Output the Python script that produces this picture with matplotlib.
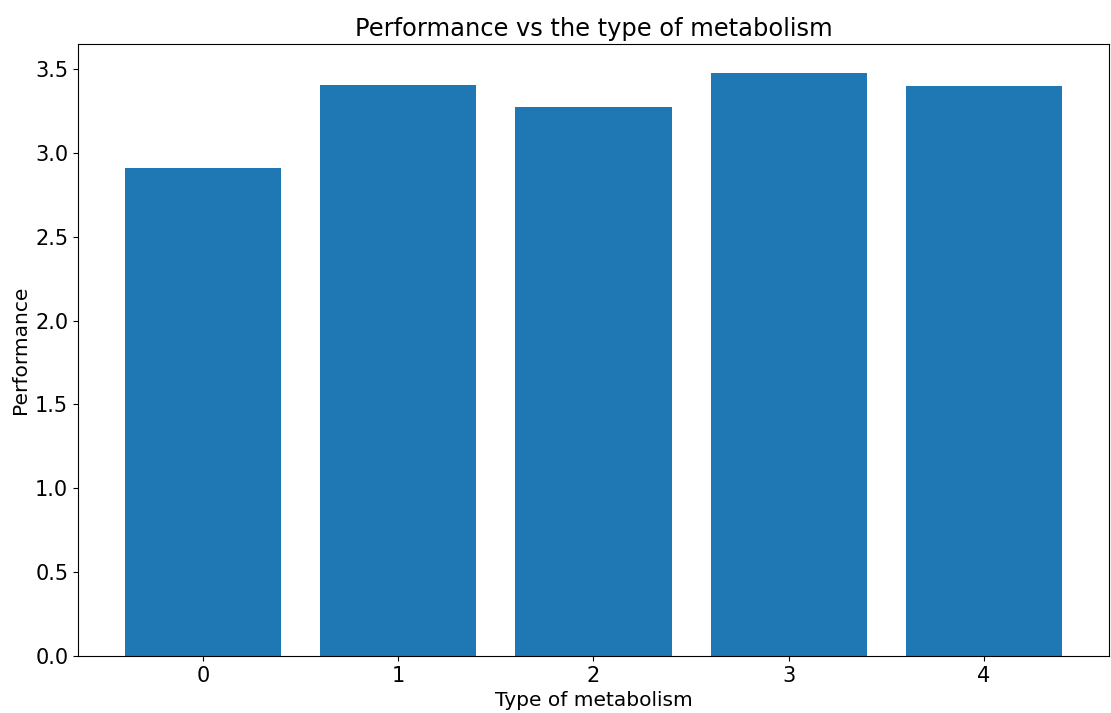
import matplotlib
matplotlib.use("Agg")
import matplotlib.pyplot as plt

# 代谢类型与表现
metabolism_types = [0, 1, 2, 3, 4]
performance = [2.91, 3.405, 3.274, 3.476, 3.399]

fig = plt.figure(figsize=(11.11, 7.13), dpi=100)
ax = fig.add_axes([78 / 1111, 57 / 713, (1109 - 78) / 1111, (656 - 44) / 713])

ax.bar(metabolism_types, performance, color='#1f77b4')
ax.set_title('Performance vs the type of metabolism', fontsize=17.4)
ax.set_xlabel('Type of metabolism', fontsize=14.5)
ax.set_ylabel('Performance', fontsize=14.5)
ax.tick_params(labelsize=15)

fig.savefig('out.png', dpi=100)
